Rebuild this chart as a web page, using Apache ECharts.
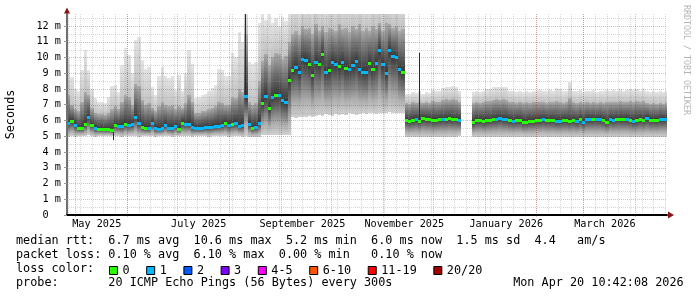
<!DOCTYPE html>
<html><head><meta charset="utf-8">
<script src="https://cdn.jsdelivr.net/npm/echarts@6/dist/echarts.min.js"></script>
<style>html,body{margin:0;padding:0;background:#fff}#c{width:697px;height:297px}</style>
</head><body><div id="c"></div>
<script>
const DAY = 86400000;
const X_MIN = Date.parse('2025-04-26T05:00:00Z');
const X_MAX = Date.parse('2026-04-20T03:34:00Z');
const STEP = 2 * DAY;            // one sample bucket = 2 days
const Y_MAX = 12.76;

// median rtt per bucket (ms)
const median = [
 5.86,5.97,5.72,5.55,5.55,5.8,6.22,5.72,5.55,5.48,
 5.47,5.45,5.44,5.42,5.7,5.62,5.65,5.78,5.7,5.78,
 6.2,5.84,5.6,5.55,5.55,5.82,5.5,5.48,5.5,5.7,
 5.55,5.52,5.65,5.45,5.85,5.8,5.75,5.58,5.55,5.55,
 5.55,5.58,5.58,5.6,5.65,5.65,5.72,5.86,5.72,5.8,
 5.82,5.62,5.72,7.55,5.8,5.55,5.6,5.85,7.1,7.55,
 6.8,7.5,7.6,7.62,7.3,7.2,8.6,9.2,9.4,9.1,
 9.9,9.85,9.6,8.9,9.7,9.6,10.2,9.1,9.2,9.73,
 9.6,9.46,9.7,9.35,9.3,9.5,9.8,9.3,9.05,9.1,
 9.65,9.3,9.65,10.5,9.6,9.0,10.45,10.1,10.05,9.25,
 9.1,6.0,5.98,6.02,6.12,5.95,6.15,6.12,6.1,6.02,
 6.0,6.08,6.1,6.12,6.15,6.12,6.08,6.05,null,null,
 null,5.9,6.0,6.02,5.98,6.03,6.05,6.08,6.12,6.14,
 6.1,6.12,6.02,5.95,6.02,6.0,5.9,5.92,5.95,5.98,
 6.0,6.05,6.12,6.05,6.02,6.05,5.98,5.95,6.03,6.05,
 5.95,6.0,5.98,6.1,5.92,6.1,6.12,6.08,6.12,6.1,
 6.0,5.93,6.08,6.02,6.1,6.12,6.08,6.08,6.05,5.95,
 6.05,6.08,6.05,6.15,6.05,6.02,6.05,6.1,6.08,6.1
];
// lost pings (of 20) per bucket
const loss = [
 1,0,1,0,0,0,1,0,1,0, 0,0,0,0,0,1,1,0,1,1,
 1,1,0,0,1,1,1,1,1,1, 1,1,1,0,0,1,1,1,1,1,
 1,1,1,1,1,1,1,0,1,0, 1,1,1,1,1,0,1,1,0,1,
 0,1,0,1,1,1,0,0,1,1, 1,1,0,0,1,0,0,1,0,1,
 1,0,1,0,1,1,1,1,1,1, 0,0,1,1,1,1,1,1,1,1,
 0,0,0,0,1,0,0,0,0,0, 0,0,1,0,0,0,0,1,0,0,
 0,0,0,0,0,0,0,0,1,1, 1,1,0,1,0,0,0,0,0,0,
 0,0,1,0,0,0,1,1,0,0, 0,0,1,0,1,1,1,0,1,1,
 0,0,1,1,0,0,0,1,0,1, 0,0,0,1,0,0,0,1,1,1
];
// smoke: lowest ping
const low = [
 4.97,5.0,4.98,5.0,5.02,5.0,5.05,5.0,4.98,5.0,
 5.02,5.0,5.0,5.0,5.0,5.02,4.98,5.0,5.0,5.02,
 5.0,4.98,5.0,5.02,5.0,5.0,4.98,5.0,5.0,5.02,
 5.0,4.98,5.0,5.0,5.02,5.0,5.0,4.98,5.0,5.02,
 5.0,5.0,4.98,5.0,5.0,5.02,5.0,5.0,4.98,5.0,
 5.0,5.0,4.98,5.0,4.95,4.92,4.92,4.95,5.05,5.08,
 5.05,5.1,5.05,5.08,5.1,5.05,5.1,6.2,6.15,6.2,
 6.25,6.2,6.3,6.25,6.3,6.35,6.3,6.4,6.35,6.3,
 6.4,6.35,6.4,6.35,6.45,6.4,6.35,6.4,6.45,6.4,
 6.5,6.45,6.4,6.5,6.45,6.5,6.55,6.5,6.45,6.5,
 6.5,4.97,4.98,4.97,4.95,4.97,4.98,4.97,4.96,4.97,
 4.98,4.97,4.96,4.97,4.98,4.97,4.96,5.0,null,null,
 null,4.98,4.97,4.96,4.97,4.98,4.97,4.95,4.97,4.98,
 4.97,4.96,4.97,4.98,4.97,4.96,4.97,4.98,4.97,4.96,
 4.97,4.98,4.97,4.96,4.97,4.98,4.97,4.96,4.97,4.98,
 4.97,4.96,4.97,4.98,4.97,4.96,4.97,4.98,4.97,4.96,
 4.97,4.98,4.97,4.96,4.97,4.98,4.97,4.96,4.97,4.98,
 4.97,4.96,4.97,4.98,4.97,4.96,4.97,4.98,4.97,4.96
];
// smoke: upper edge of the dense (dark) part
const mid = [
 7.6,7.0,6.7,6.6,7.2,7.8,7.6,6.8,6.5,6.4,
 6.4,6.35,6.5,6.7,6.9,6.7,7.2,7.6,7.5,7.0,
 8.3,8.2,7.3,7.0,7.1,6.8,6.6,6.9,7.2,7.0,
 6.9,7.0,6.7,6.9,6.8,7.1,7.6,7.2,6.5,6.5,
 6.6,6.6,6.7,6.8,6.9,7.2,7.1,7.0,7.0,7.5,
 7.4,8.0,7.8,11.5,7.2,7.0,7.1,8.5,9.8,10.2,
 9.5,10.0,10.3,10.2,9.9,10.1,11.0,11.5,11.7,11.4,
 12.0,11.8,11.9,11.5,12.1,11.7,12.0,11.6,11.9,11.8,
 11.7,12.1,11.8,11.9,11.6,12.0,11.8,12.1,11.7,11.9,
 11.7,12.0,11.8,12.2,11.7,12.2,12.1,11.9,12.0,11.7,
 11.8,7.1,7.05,7.15,7.1,7.2,7.1,7.15,7.1,7.25,
 7.2,7.2,7.3,7.35,7.3,7.35,7.3,7.2,null,null,
 null,7.1,7.15,7.1,7.2,7.25,7.25,7.3,7.35,7.3,
 7.35,7.3,7.2,7.15,7.1,7.15,7.1,7.15,7.1,7.15,
 7.2,7.2,7.15,7.1,7.2,7.15,7.25,7.2,7.1,7.15,
 7.45,7.15,7.1,7.2,7.1,7.15,7.1,7.2,7.1,7.15,
 7.1,7.2,7.15,7.2,7.15,7.25,7.15,7.2,7.25,7.2,
 7.25,7.15,7.25,7.1,7.05,7.1,7.05,7.1,7.05,7.1
];
// smoke: highest ping
const high = [
 9.95,8.75,8.0,7.9,9.2,10.5,9.2,8.0,7.4,7.2,
 7.2,7.1,7.5,8.2,8.25,7.8,9.5,10.6,10.15,9.0,
 11.1,11.3,9.85,9.3,9.4,8.15,7.6,8.8,9.4,8.8,
 8.7,8.85,7.95,8.9,7.9,9.0,10.5,9.6,7.4,7.5,
 7.6,7.7,7.9,8.05,8.25,9.3,9.2,8.8,8.8,10.3,
 10.0,11.6,11.0,13.0,9.7,9.6,9.7,12.2,13.0,12.4,
 12.8,12.2,12.5,12.0,12.6,12.3,13.0,13.5,14.0,13.2,
 14.5,13.8,14.2,13.4,14.8,13.6,14.0,13.3,14.4,13.9,
 13.5,14.6,13.7,14.1,13.4,14.3,13.8,14.7,13.5,14.0,
 13.6,14.4,13.9,14.2,13.5,14.8,14.1,13.7,14.3,13.9,
 14.0,7.7,7.65,7.8,7.75,7.9,7.7,7.8,7.75,7.95,
 7.85,7.9,8.05,8.15,8.1,8.2,8.15,7.9,null,null,
 null,7.8,7.85,7.8,7.9,8.0,8.02,8.1,8.15,8.12,
 8.15,8.1,7.9,7.85,7.8,7.85,7.8,7.85,7.8,7.85,
 7.9,7.95,7.9,7.85,7.95,7.9,8.05,8.0,7.85,7.9,
 8.45,7.9,7.85,7.95,7.8,7.9,7.85,7.95,7.8,7.9,
 7.85,7.95,7.9,7.95,7.9,8.0,7.9,7.95,8.0,7.95,
 8.0,7.9,8.0,7.85,7.8,7.85,7.8,7.85,7.8,7.85
];
// isolated single-sample spikes
const spikeDates = ['2025-05-24T00:00:00Z','2025-08-10T12:00:00Z','2025-11-22T12:00:00Z'];
const spikeFrom = [5.4, 7.55, 6.1];
const spikeTo = [4.75, 12.76, 10.3];

const monthStarts = ['2025-05-01','2025-06-01','2025-07-01','2025-08-01','2025-09-01','2025-10-01',
  '2025-11-01','2025-12-01','2026-01-01','2026-02-01','2026-03-01','2026-04-01'];
const xLabelDates = ['2025-05-14','2025-07-14','2025-09-14','2025-11-14','2026-01-14','2026-03-14'];
const xLabels = ['May 2025','July 2025','September 2025','November 2025','January 2026','March 2026'];
const yTicks = [0,1,2,3,4,5,6,7,8,9,10,11,12];
const lossNames = ['0','1','2','3','4-5','6-10','11-19','20/20'];
const lossColors = ['#26ff00','#00b8ff','#0059ff','#7e00ff','#ff00ff','#ff5500','#ff0000','#a10000'];

const legendRows = [
  'median rtt:  6.7 ms avg  10.6 ms max  5.2 ms min  6.0 ms now  1.5 ms sd  4.4   am/s',
  'packet loss: 0.10 % avg  6.10 % max  0.00 % min   0.10 % now',
  'loss color:',
  'probe:       20 ICMP Echo Pings (56 Bytes) every 300s                 Mon Apr 20 10:42:08 2026'
];

const FONT = 'DejaVu Sans Mono';
const toMs = s => Date.parse(s.length === 10 ? s + 'T00:00:00Z' : s);
const xLabelTimes = xLabelDates.map(toMs);

function lossClass(n) {
  if (n <= 3) return n;
  if (n <= 5) return 4;
  if (n <= 10) return 5;
  if (n <= 19) return 6;
  return 7;
}

const buckets = [];
median.forEach((m, i) => {
  if (m == null) return;
  buckets.push({ t: X_MIN + i * STEP, med: m, lo: low[i], q: mid[i], hi: high[i], cls: lossClass(loss[i]) });
});

// grid lines
const vGrid = [];
let sun = toMs('2025-04-27');
while (sun <= X_MAX) { vGrid.push([sun, 0]); sun += 7 * DAY; }
monthStarts.forEach(d => vGrid.push([toMs(d), 1]));
const hGrid = [];
for (let v = 0.5; v < Y_MAX; v += 0.5) hGrid.push([X_MIN, v, Number.isInteger(v) ? 1 : 0]);

const MAJOR = 'rgba(200,0,0,0.30)';
const MINOR = 'rgba(140,140,140,0.36)';

const G = echarts.graphic.LinearGradient;
function colX(api, t, cs) {
  const x0 = Math.round(api.coord([t, 0])[0]);
  const x1 = Math.min(Math.round(api.coord([t + STEP, 0])[0]), cs.x + cs.width);
  return [x0, x1];
}

function smokeItem(params, api) {
  const cs = params.coordSys;
  const t = api.value(0);
  const [x0, x1] = colX(api, t, cs);
  const w = x1 - x0;
  if (w <= 0) return;
  const yv = v => api.coord([t, v])[1];
  const top = cs.y;
  const yLo = Math.round(yv(api.value(1)));
  const yMd = Math.round(yv(api.value(2)));
  const yQ = Math.max(top, Math.round(yv(api.value(3))));
  const yHiRaw = yv(api.value(4));
  const yHi = Math.max(top, Math.round(yHiRaw));
  const kids = [
    { type: 'rect', shape: { x: x0, y: yMd, width: w, height: yLo - yMd },
      style: { fill: new G(0, yMd, 0, yLo, [
        { offset: 0, color: '#383838' }, { offset: 0.35, color: '#707070' },
        { offset: 0.7, color: '#adadad' }, { offset: 1, color: '#d0d0d0' }], true) } },
    { type: 'rect', shape: { x: x0, y: yQ, width: w, height: yMd - yQ },
      style: { fill: new G(0, yQ, 0, yMd, [
        { offset: 0, color: '#ababab' }, { offset: 0.5, color: '#6e6e6e' },
        { offset: 1, color: '#383838' }], true) } }
  ];
  if (yQ - yHi > 0) kids.push({ type: 'rect', shape: { x: x0, y: yHi, width: w, height: yQ - yHi },
      style: { fill: new G(0, yHiRaw, 0, yQ, [
        { offset: 0, color: '#e4e4e4' }, { offset: 1, color: '#c2c2c2' }], true) } });
  return { type: 'group', children: kids };
}

const series = [
  { type: 'custom', name: 'smoke', z: 2, silent: true, renderItem: smokeItem,
    data: buckets.map(b => [b.t, b.lo, b.med, b.q, b.hi]) },
  { type: 'custom', name: 'vgrid', z: 3, silent: true, data: vGrid,
    renderItem: (params, api) => {
      const cs = params.coordSys;
      const x = Math.round(api.coord([api.value(0), 0])[0]) + 0.5;
      const major = api.value(1) === 1;
      return { type: 'line', shape: { x1: x, y1: cs.y, x2: x, y2: cs.y + cs.height + (major ? 3 : 0) },
        style: { stroke: major ? MAJOR : MINOR, lineWidth: 1, lineDash: [1, 1] } };
    } },
  { type: 'custom', name: 'hgrid', z: 3, silent: true, data: hGrid,
    renderItem: (params, api) => {
      const cs = params.coordSys;
      const y = Math.round(api.coord([api.value(0), api.value(1)])[1]) + 0.5;
      const major = api.value(2) === 1;
      return { type: 'line', shape: { x1: cs.x, y1: y, x2: cs.x + cs.width, y2: y },
        style: { stroke: major ? MAJOR : MINOR, lineWidth: 1, lineDash: [1, 1] } };
    } },
  { type: 'custom', name: 'spikes', z: 4, silent: true,
    data: spikeDates.map((d, i) => [toMs(d), spikeFrom[i], spikeTo[i]]),
    renderItem: (params, api) => {
      const cs = params.coordSys;
      const t = api.value(0);
      const x = Math.round(api.coord([t, 0])[0]) + 0.5;
      const ya = api.coord([t, api.value(1)])[1];
      const yb = Math.max(cs.y, api.coord([t, api.value(2)])[1]);
      return { type: 'line', shape: { x1: x, y1: ya, x2: x, y2: yb }, style: { stroke: '#2a2a2a', lineWidth: 1 } };
    } }
];
lossNames.forEach((name, k) => {
  series.push({
    type: 'custom', name, z: 5, silent: true, itemStyle: { color: lossColors[k] },
    data: buckets.filter(b => b.cls === k).map(b => [b.t, b.med]),
    renderItem: (params, api) => {
      const cs = params.coordSys;
      const t = api.value(0);
      const [x0, x1] = colX(api, t, cs);
      const y = Math.round(api.coord([t, api.value(1)])[1]);
      return { type: 'rect', shape: { x: x0, y: y - 1, width: x1 - x0, height: 3 }, style: { fill: lossColors[k] } };
    }
  });
});

const chart = echarts.init(document.getElementById('c'), null, { renderer: 'canvas', width: 697, height: 297 });
chart.setOption({
  animation: false,
  backgroundColor: '#ffffff',
  grid: { left: 67, right: 30, top: 14, bottom: 82, outerBoundsMode: 'none', containLabel: false },
  xAxis: {
    type: 'value', min: X_MIN, max: X_MAX, z: 6,
    axisLine: { onZero: false, lineStyle: { color: '#000', width: 2 } },
    axisTick: { show: false }, splitLine: { show: false },
    axisLabel: { customValues: xLabelTimes, formatter: v => { const i = xLabelTimes.indexOf(v); return i >= 0 ? xLabels[i] : ''; },
      fontFamily: FONT, fontSize: 10.2, color: '#000', margin: 4 }
  },
  yAxis: {
    type: 'value', min: 0, max: Y_MAX, interval: 1, z: 6,
    name: 'Seconds', nameLocation: 'middle', nameGap: 50,
    nameTextStyle: { fontFamily: FONT, fontSize: 11.8, color: '#000' },
    axisLine: { show: true, lineStyle: { color: '#707070', width: 2 } },
    axisTick: { show: true, customValues: yTicks, length: 3, lineStyle: { color: '#999' } },
    splitLine: { show: false },
    axisLabel: { customValues: yTicks, formatter: v => (v === 0 ? '0  ' : v + ' m'),
      fontFamily: FONT, fontSize: 10.2, color: '#000', margin: 6 }
  },
  legend: {
    data: lossNames, left: 109, top: 264.5, itemWidth: 8, itemHeight: 8, itemGap: 16.6,
    icon: 'rect', selectedMode: false, padding: 0,
    itemStyle: { borderColor: '#000', borderWidth: 1 },
    textStyle: { fontFamily: FONT, fontSize: 11.8, color: '#000' }
  },
  series,
  graphic: [
    ...legendRows.map((txt, i) => ({ type: 'text', x: 16, y: 241 + 14 * i, silent: true,
      style: { text: txt, fontFamily: FONT, fontSize: 11.8, fill: '#000', align: 'left', verticalAlign: 'middle' } })),
    { type: 'text', x: 686, y: 5, rotation: -Math.PI / 2, silent: true,
      style: { text: 'RRDTOOL / TOBI OETIKER', fontFamily: FONT, fontSize: 8.3, fill: '#b4b4b4', align: 'left', verticalAlign: 'middle' } },
    { type: 'polygon', silent: true, z: 10, shape: { points: [[64, 13.5], [67, 7.5], [70, 13.5]] }, style: { fill: '#8a1414' } },
    { type: 'polygon', silent: true, z: 10, shape: { points: [[668, 211.5], [674, 215], [668, 218.5]] }, style: { fill: '#8a1414' } }
  ]
});
</script>
</body></html>
